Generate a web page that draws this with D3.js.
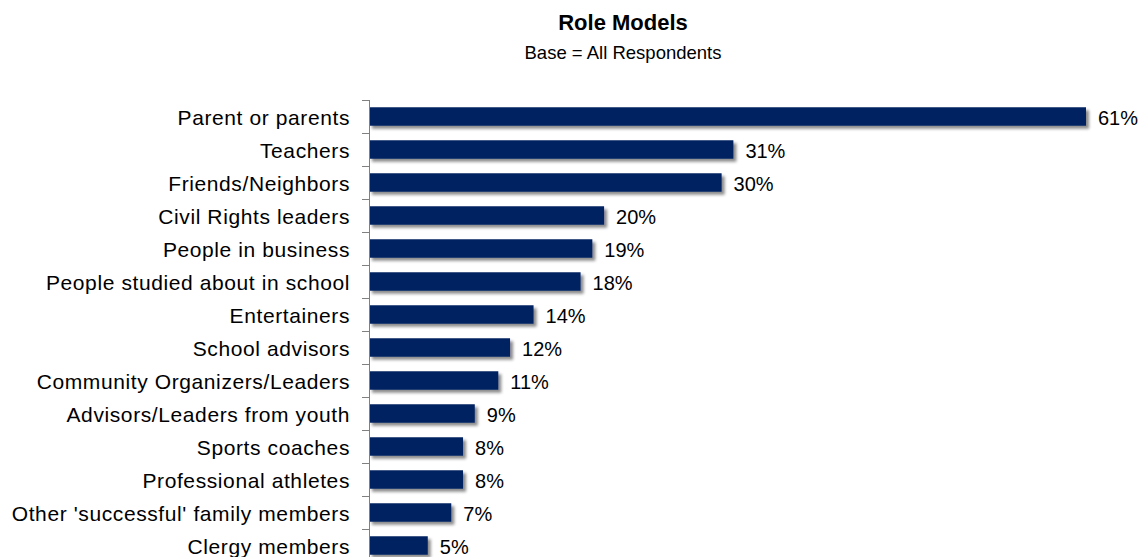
<!DOCTYPE html>
<html>
<head>
<meta charset="utf-8">
<script src="https://cdn.jsdelivr.net/npm/d3@7"></script>
<style>
	body { margin: 0; background: #fff; }
	text { font-family: "Liberation Sans", Arial, sans-serif; fill: #000; }
</style>
</head>
<body>
<svg id="chart" width="1141" height="557"></svg>
<script>
// chart data
var categories = ["Parent or parents", "Teachers", "Friends/Neighbors", "Civil Rights leaders",
	"People in business", "People studied about in school", "Entertainers", "School advisors",
	"Community Organizers/Leaders", "Advisors/Leaders from youth", "Sports coaches",
	"Professional athletes", "Other 'successful' family members", "Clergy members"];
var values = [61, 31, 30, 20, 19, 18, 14, 12, 11, 9, 8, 8, 7, 5];
var title = "Role Models";
var subtitle = "Base = All Respondents";

var data = categories.map(function(c, i) { return {name: c, v: values[i]}; });

var svg = d3.select("#chart");
var axisX = 369, axisTop = 100, step = 33;

var x = d3.scaleLinear().domain([0, 61]).range([axisX, 1086]);
var y = d3.scaleBand()
	.domain(categories)
	.range([axisTop, axisTop + step * categories.length])
	.paddingInner(0.44)
	.paddingOuter(0.22);

// drop shadow on bars
var defs = svg.append("defs");
var f = defs.append("filter").attr("id", "shadow")
	.attr("x", "-5%").attr("y", "-30%").attr("width", "120%").attr("height", "180%");
f.append("feDropShadow")
	.attr("dx", 3).attr("dy", 3).attr("stdDeviation", 1.6)
	.attr("flood-color", "#000").attr("flood-opacity", 0.45);

// titles
svg.append("text")
	.attr("x", 623).attr("y", 30)
	.style("text-anchor", "middle")
	.style("font-weight", "bold")
	.style("font-size", "22px")
	.text(title);
svg.append("text")
	.attr("x", 623).attr("y", 59)
	.style("text-anchor", "middle")
	.style("font-size", "18.5px")
	.text(subtitle);

// bars
svg.selectAll("rect.bar").data(data).enter().append("rect")
	.attr("class", "bar")
	.attr("x", x(0))
	.attr("y", function(d) { return y(d.name); })
	.attr("width", function(d) { return x(d.v) - x(0); })
	.attr("height", y.bandwidth())
	.attr("fill", "#002060")
	.attr("filter", "url(#shadow)");

// axis line and tick marks at band boundaries
var half = y.step() * y.paddingInner() / 2;
var bounds = categories.map(function(c) { return y(c) - half; });
bounds.push(y.range()[1]);

svg.append("line")
	.attr("x1", axisX + 0.5).attr("x2", axisX + 0.5)
	.attr("y1", axisTop).attr("y2", y.range()[1])
	.attr("stroke", "#808080").attr("stroke-width", 1);
svg.selectAll("line.tick").data(bounds).enter().append("line")
	.attr("class", "tick")
	.attr("x1", axisX - 7).attr("x2", axisX + 0.5)
	.attr("y1", function(d) { return Math.round(d) + 0.5; })
	.attr("y2", function(d) { return Math.round(d) + 0.5; })
	.attr("stroke", "#808080").attr("stroke-width", 1);

// category labels
svg.selectAll("text.cat").data(data).enter().append("text")
	.attr("class", "cat")
	.attr("x", axisX - 19)
	.attr("y", function(d) { return y(d.name) + y.bandwidth() / 2 + 1; })
	.attr("dy", "0.36em")
	.style("text-anchor", "end")
	.style("font-size", "21px")
	.style("letter-spacing", "0.6px")
	.text(function(d) { return d.name; });

// value labels
svg.selectAll("text.val").data(data).enter().append("text")
	.attr("class", "val")
	.attr("x", function(d) { return x(d.v) + 12; })
	.attr("y", function(d) { return y(d.name) + y.bandwidth() / 2 + 1; })
	.attr("dy", "0.36em")
	.style("font-size", "20px")
	.text(function(d) { return d.v + "%"; });
</script>
</body>
</html>
